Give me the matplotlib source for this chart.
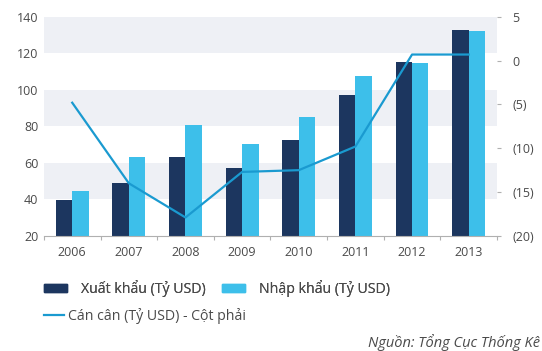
import matplotlib.pyplot as plt
from matplotlib.patches import Patch
from matplotlib.lines import Line2D
import numpy as np

plt.rcParams["font.family"] = ["Open Sans", "DejaVu Sans"]

YEARS = ["2006", "2007", "2008", "2009", "2010", "2011", "2012", "2013"]
EXPORTS = [39.7, 48.9, 63.2, 57.1, 72.4, 97.3, 115.3, 133.0]
IMPORTS = [44.5, 63.0, 81.0, 70.2, 85.0, 107.5, 114.6, 132.0]
BALANCE = [-4.8, -14.0, -17.9, -12.7, -12.5, -9.8, 0.7, 0.7]

NAVY = "#1c365f"
SKY = "#3dbfea"
LINE = "#1a9ad0"
GREY_TXT = "#4a4a4a"
BAND = "#eef0f5"


def fmt_right(v):
    v = int(round(v))
    return f"({-v})" if v < 0 else f"{v}"


fig = plt.figure(figsize=(5.42, 3.51), dpi=100)
ax = fig.add_axes([0.081, 0.328, 0.836, 0.624])
x = np.arange(len(YEARS))
w = 0.29

for lo in (40, 80, 120):
    ax.axhspan(lo, lo + 20, color=BAND, lw=0, zorder=0)

ax.bar(x - w / 2, EXPORTS, w, color=NAVY, zorder=2)
ax.bar(x + w / 2, IMPORTS, w, color=SKY, zorder=2)

ax.set_xlim(-0.5, len(YEARS) - 0.5)
ax.set_ylim(20, 140)
ax.set_yticks(range(20, 141, 20))
ax.set_xticks(x)
ax.set_xticklabels(YEARS)
ax.set_xticks(np.arange(-0.5, len(YEARS)), minor=True)
ax.tick_params(axis="x", which="major", length=0, pad=7, labelsize=9, labelcolor=GREY_TXT)
ax.tick_params(axis="x", which="minor", length=3, color="#b0b0b0", width=0.8)
ax.tick_params(axis="y", length=0, pad=4, labelsize=9, labelcolor=GREY_TXT)
for s in ("top", "left", "right"):
    ax.spines[s].set_visible(False)
ax.spines["bottom"].set_color("#b0b0b0")
ax.spines["bottom"].set_linewidth(0.8)

ax2 = ax.twinx()
ax2.plot(x, BALANCE, color=LINE, lw=1.6, zorder=3)
ax2.set_ylim(-20, 5)
ax2.set_yticks(range(-20, 6, 5))
ax2.set_yticklabels([fmt_right(v) for v in range(-20, 6, 5)])
ax2.tick_params(axis="y", length=3, color="#b0b0b0", width=0.8, pad=8,
                labelsize=9, labelcolor=GREY_TXT)
for s in ("top", "left", "right", "bottom"):
    ax2.spines[s].set_visible(False)

bars_leg = fig.legend(
    handles=[Patch(color=NAVY, label="Xuất khẩu (Tỷ USD)"),
             Patch(color=SKY, label="Nhập khẩu (Tỷ USD)")],
    loc="center left", bbox_to_anchor=(0.081, 0.178), ncol=2, frameon=False,
    fontsize=10.2, handlelength=1.6, handleheight=0.45, handletextpad=1.0,
    columnspacing=1.2, borderpad=0, borderaxespad=0, labelcolor=GREY_TXT,
)
fig.legend(
    handles=[Line2D([], [], color=LINE, lw=1.6, label="Cán cân (Tỷ USD) - Cột phải")],
    loc="center left", bbox_to_anchor=(0.081, 0.1), frameon=False,
    fontsize=10.2, handlelength=1.4, handletextpad=0.3, borderpad=0,
    borderaxespad=0, labelcolor=GREY_TXT,
)
fig.add_artist(bars_leg)

fig.text(0.997, 0.025, "Nguồn: Tổng Cục Thống Kê", ha="right", va="center",
         style="italic", fontsize=10.5, color=GREY_TXT)

fig.savefig("out.png", dpi=100)
